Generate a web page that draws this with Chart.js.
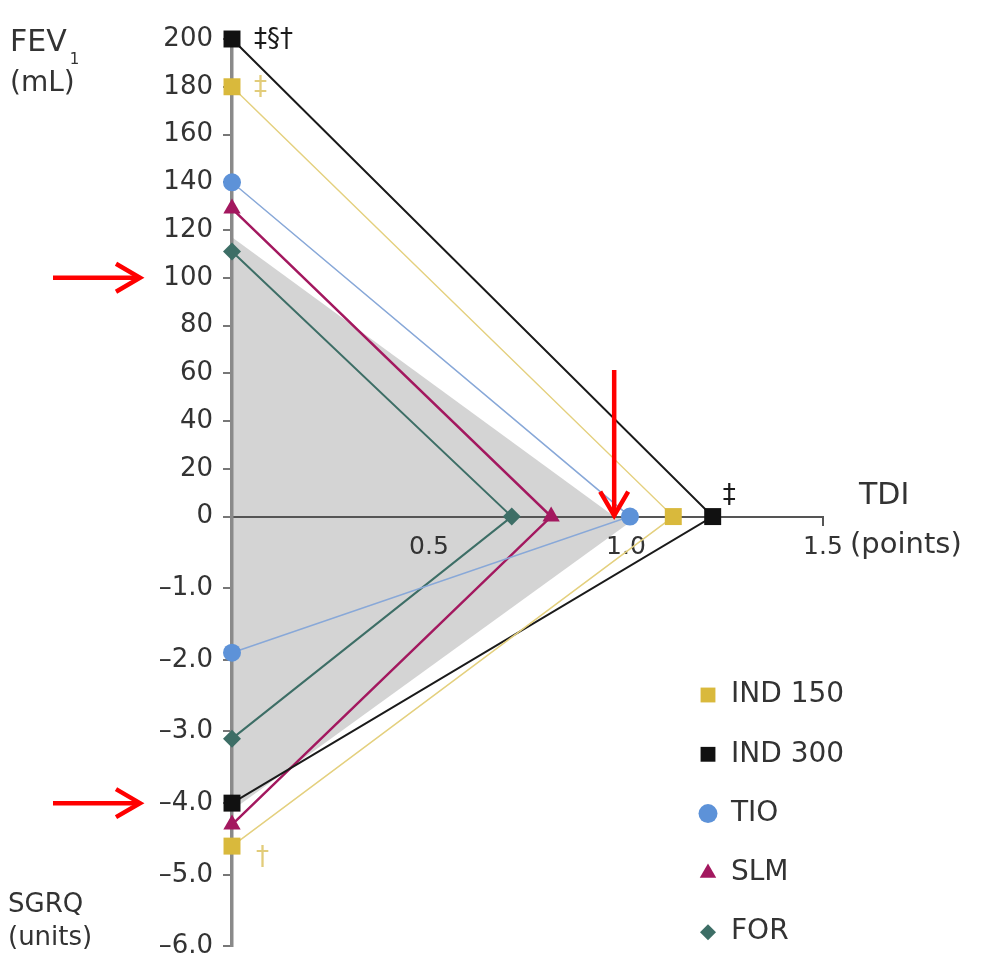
<!DOCTYPE html>
<html>
<head>
<meta charset="utf-8">
<script src="https://cdn.jsdelivr.net/npm/chart.js@4.4.0/dist/chart.umd.min.js"></script>
<style>
  html, body { margin: 0; padding: 0; background: #fff; }
  #wrap { width: 988px; height: 972px; }
</style>
</head>
<body>
<div id="wrap"><canvas id="chart" width="988" height="972"></canvas></div>
<script>
// treatments and their placebo-adjusted effects
const treatments = ['IND 150', 'IND 300', 'TIO', 'SLM', 'FOR'];
const fev1 = [180, 200, 140, 129, 111];        // mL
const tdi = [1.12, 1.22, 1.01, 0.81, 0.71];    // points
const sgrq = [-4.6, -4.0, -1.9, -4.3, -3.1];   // units

// significance marks next to points
const fev1Notes = ['‡', '‡§†', '', '', ''];
const tdiNotes = ['', '‡', '', '', ''];
const sgrqNotes = ['†', '', '', '', ''];

// grey reference area
const shadeFev1 = 117;
const shadeTdiUp = 0.97;
const shadeTdiDown = 1.03;
const shadeSgrq = -4.1;

// arrow targets
const arrowFev1 = 100;
const arrowSgrq = -4.0;
const arrowTdi = 0.97;

// tick labels
const fev1Ticks = [0, 20, 40, 60, 80, 100, 120, 140, 160, 180, 200];
const sgrqTicks = [-1, -2, -3, -4, -5, -6];
const tdiTicks = [0, 0.5, 1.0, 1.5];

// the lower half of the axis is drawn at 30 mL per SGRQ unit
const K = 30;

const pointColors = ['#d9b93c', '#111111', '#5d92d8', '#a3185f', '#3d6e66'];
const lineColors = ['#e4d07e', '#1a1a1a', '#88a8d8', '#a3185f', '#3d6e66'];
const lineWidths = [1.5, 2, 1.5, 2.5, 2];
const pointStyles = ['rect', 'rect', 'circle', 'triangle', 'rectRot'];
const pointSizes = [12, 12, 9, 10, 9];
const noteColors = ['#e2cc7a', '#1a1a1a', '#333', '#333', '#333'];

const FONT = '"DejaVu Sans", sans-serif';
const TXT = '#333';

const datasets = treatments.map((name, i) => ({
  label: name,
  data: [{x: 0, y: fev1[i]}, {x: tdi[i], y: 0}, {x: 0, y: sgrq[i] * K}],
  borderColor: lineColors[i],
  borderWidth: lineWidths[i],
  pointStyle: pointStyles[i],
  pointRadius: pointSizes[i],
  pointBackgroundColor: pointColors[i],
  pointBorderColor: pointColors[i],
  pointBorderWidth: 0,
  fill: false,
  tension: 0,
  clip: false
}));

// grey area, two halves filled to y = 0
datasets.push({
  label: 'shade-up',
  data: [{x: 0, y: shadeFev1}, {x: shadeTdiUp, y: 0}],
  borderColor: 'rgba(0,0,0,0)', borderWidth: 1, pointRadius: 0,
  backgroundColor: '#d4d4d4', fill: 'origin', tension: 0
});
datasets.push({
  label: 'shade-down',
  data: [{x: 0, y: shadeSgrq * K}, {x: shadeTdiDown, y: 0}],
  borderColor: 'rgba(0,0,0,0)', borderWidth: 1, pointRadius: 0,
  backgroundColor: '#d4d4d4', fill: 'origin', tension: 0
});

function arrow(ctx, x1, y1, x2, y2) {
  const a = Math.atan2(y2 - y1, x2 - x1);
  const len = 24, half = 14;
  ctx.beginPath();
  ctx.moveTo(x1, y1);
  ctx.lineTo(x2, y2);
  ctx.stroke();
  const bx = x2 - Math.cos(a) * len, by = y2 - Math.sin(a) * len;
  ctx.beginPath();
  ctx.moveTo(bx - Math.sin(a) * half, by + Math.cos(a) * half);
  ctx.lineTo(x2, y2);
  ctx.lineTo(bx + Math.sin(a) * half, by - Math.cos(a) * half);
  ctx.stroke();
}

const extras = {
  id: 'extras',
  afterDraw(chart) {
    const ctx = chart.ctx;
    const xs = chart.scales.x, ys = chart.scales.y;
    const x0 = xs.getPixelForValue(0), y0 = ys.getPixelForValue(0);
    ctx.save();
    ctx.textBaseline = 'middle';
    ctx.textAlign = 'left';
    ctx.fillStyle = TXT;

    // axis titles
    ctx.font = '30px ' + FONT;
    ctx.fillText('FEV', 10, 43);
    const w = ctx.measureText('FEV').width;
    ctx.font = '15px ' + FONT;
    ctx.fillText('1', 13 + w, 60);
    ctx.font = '28px ' + FONT;
    ctx.fillText('(mL)', 10, 84);
    ctx.font = '26px ' + FONT;
    ctx.fillText('SGRQ', 8, 905);
    ctx.fillText('(units)', 8, 938);
    ctx.font = '30px ' + FONT;
    ctx.fillText('TDI', 859, y0 - 20);
    ctx.font = '29px ' + FONT;
    ctx.fillText('(points)', 850, y0 + 29);

    // significance marks
    ctx.font = '26px ' + FONT;
    treatments.forEach((t, i) => {
      ctx.fillStyle = noteColors[i];
      if (fev1Notes[i]) ctx.fillText(fev1Notes[i], x0 + 22, ys.getPixelForValue(fev1[i]) + 1);
      if (tdiNotes[i]) ctx.fillText(tdiNotes[i], xs.getPixelForValue(tdi[i]) + 10, y0 - 20);
      if (sgrqNotes[i]) ctx.fillText(sgrqNotes[i], x0 + 24, ys.getPixelForValue(sgrq[i] * K) + 12);
    });

    // red arrows
    ctx.strokeStyle = '#ff0000';
    ctx.lineWidth = 4.5;
    ctx.lineCap = 'butt';
    ctx.lineJoin = 'miter';
    const ya = ys.getPixelForValue(arrowFev1);
    arrow(ctx, 53, ya, 140, ya);
    const yb = ys.getPixelForValue(arrowSgrq * K);
    arrow(ctx, 53, yb, 140, yb);
    const xa = xs.getPixelForValue(arrowTdi);
    arrow(ctx, xa, 370, xa, y0 - 1);

    // legend
    treatments.forEach((t, i) => {
      const ly = 695 + i * 59.3;
      ctx.fillStyle = pointColors[i];
      Chart.helpers.drawPoint(ctx, {
        pointStyle: pointStyles[i], radius: pointStyles[i] === 'rect' ? 10.5 : (pointStyles[i] === 'rectRot' ? 8 : 9.5),
        rotation: 0, borderWidth: 0
      }, 708, ly);
      ctx.fillStyle = TXT;
      ctx.font = '28px ' + FONT;
      ctx.fillText(t, 731, ly);
    });
    ctx.restore();
  }
};

new Chart(document.getElementById('chart'), {
  type: 'line',
  data: { datasets },
  options: {
    responsive: false,
    animation: false,
    events: [],
    layout: { padding: { left: 0, top: 39, right: 165, bottom: 22 } },
    plugins: {
      legend: { display: false },
      tooltip: { enabled: false },
      filler: { drawTime: 'beforeDraw' }
    },
    scales: {
      x: {
        type: 'linear',
        min: 0, max: 1.5,
        position: { y: 0 },
        afterBuildTicks: s => { s.ticks = tdiTicks.map(v => ({ value: v })); },
        ticks: {
          autoSkip: false,
          padding: 8,
          color: TXT,
          font: { family: FONT, size: 25 },
          callback: v => v === 0 ? '' : v.toFixed(1)
        },
        grid: {
          drawOnChartArea: false,
          tickLength: 8,
          lineWidth: 2,
          color: c => (c.tick && c.tick.value === 1.5) ? '#555' : 'rgba(0,0,0,0)'
        },
        border: { color: '#555', width: 2 }
      },
      y: {
        type: 'linear',
        min: sgrqTicks[sgrqTicks.length - 1] * K, max: 200,
        afterFit: s => { s.width = 232; },
        afterBuildTicks: s => {
          s.ticks = sgrqTicks.map(v => v * K).concat(fev1Ticks)
            .sort((a, b) => a - b).map(v => ({ value: v }));
        },
        ticks: {
          autoSkip: false,
          padding: 10,
          color: TXT,
          font: { family: FONT, size: 26 },
          callback: v => v >= 0 ? String(v) : '\u2013' + (Math.abs(v) / K).toFixed(1)
        },
        grid: { drawOnChartArea: false, tickLength: 9, lineWidth: 2, color: '#777' },
        border: { color: '#8a8a8a', width: 3.5 }
      }
    }
  },
  plugins: [extras]
});
</script>
</body>
</html>
